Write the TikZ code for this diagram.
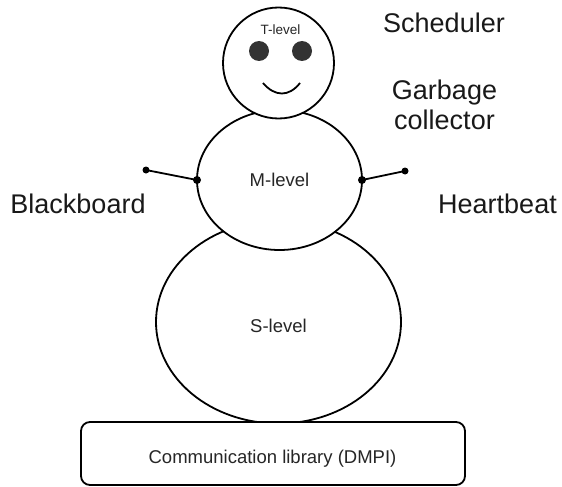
\documentclass[tikz,border=0pt]{standalone}
\usepackage{fontspec}
\setmainfont{Liberation Sans}
\usetikzlibrary{shapes.geometric}
\begin{document}
\begin{tikzpicture}[x=1pt,y=-1pt,
  body/.style={draw,line width=1.8pt,fill=white,inner sep=0pt,outer sep=0pt},
  tag/.style={anchor=base,text=black!85,inner sep=0pt,font=\fontsize{18.5}{20}\selectfont},
  side/.style={anchor=base,text=black!90,inner sep=0pt,font=\fontsize{27}{30}\selectfont}]
\useasboundingbox (0,0) rectangle (562,487);

\node[body,ellipse,minimum width=245,minimum height=203] (slevel) at (278.5,322) {};
\node[body,ellipse,minimum width=165,minimum height=140] (mlevel) at (279.5,180) {};
\node[body,circle,minimum size=111] (tlevel) at (278.5,63) {};
\node[body,rounded corners=9pt,minimum width=384,minimum height=63] (dmpi) at (273,453.5) {};

% face
\fill[black!80] (259,51) circle (10pt) (302,51) circle (10pt);
\draw[line width=1.8pt] (263,83) .. controls (275,97) and (289,97) .. (300,83);

% arms
\coordinate (lhand) at (146,170);
\coordinate (rhand) at (405,171);
\draw[line width=1.8pt] (mlevel.west) -- (lhand);
\draw[line width=1.8pt] (mlevel.east) -- (rhand);
\fill (lhand) circle (3.5pt) (mlevel.west) circle (4pt)
      (rhand) circle (3.5pt) (mlevel.east) circle (4pt);

\node[tag,font=\fontsize{13.5}{15}\selectfont] (ttext) at (280.5,35) {T-level};
\node[tag] (mtext) at (279.5,186) {M-level};
\node[tag] (stext) at (278.5,332) {S-level};
\node[tag] (dtext) at (272.5,463) {Communication library (DMPI)};

\node[side] (sched) at (444,33) {Scheduler};
\node[side,align=center,anchor=center] (gc) at (444.5,105) {Garbage\\collector};
\node[side] (bboard) at (78,213) {Blackboard};
\node[side] (hbeat) at (497.5,213) {Heartbeat};
\end{tikzpicture}
\end{document}
